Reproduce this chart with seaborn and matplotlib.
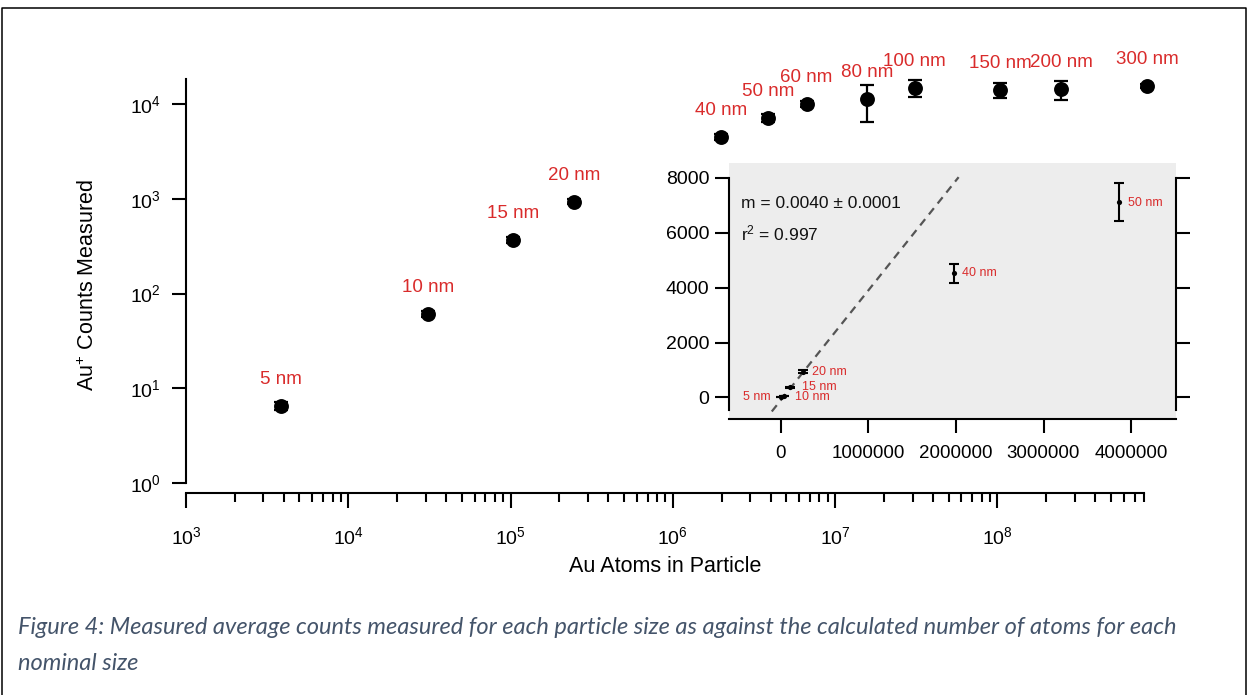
import numpy as np
import matplotlib
matplotlib.use("Agg")
import matplotlib.pyplot as plt
import seaborn as sns
from matplotlib.lines import Line2D
from matplotlib.ticker import FixedLocator, LogLocator, NullLocator, NullFormatter

# ---------------- data ----------------
sizes = ['5 nm', '10 nm', '15 nm', '20 nm', '40 nm', '50 nm', '60 nm',
         '80 nm', '100 nm', '150 nm', '200 nm', '300 nm']
atoms = [3.86e3, 3.09e4, 1.04e5, 2.47e5, 1.98e6, 3.86e6, 6.67e6,
         1.58e7, 3.09e7, 1.04e8, 2.47e8, 8.34e8]
counts = [6.5, 61, 367, 930, 4520, 7130, 10000,
          11200, 14900, 14100, 14300, 15500]
count_err = [0.6, 5, 25, 55, 335, 690, 700,
             4700, 3050, 2650, 3300, 800]

inset_sizes = sizes[:6]
inset_atoms = atoms[:6]
inset_counts = counts[:6]
inset_err = count_err[:6]

fit_slope = 0.0040
fit_slope_err = 0.0001
fit_intercept = -90
fit_r2 = 0.997
fit_x = [-1.05e5, 2.03e6]

main_xticks = [1e3, 1e4, 1e5, 1e6, 1e7, 1e8]
main_yticks = [1e0, 1e1, 1e2, 1e3, 1e4]
inset_xticks = [0, 1000000, 2000000, 3000000, 4000000]
inset_yticks = [0, 2000, 4000, 6000, 8000]

xlabel = 'Au Atoms in Particle'
ylabel = r'Au$^{+}$ Counts Measured'
caption_lines = ['Figure 4: Measured average counts measured for each particle size as against the calculated number of atoms for each',
                 'nominal size']

# ---------------- style ----------------
sns.set_theme(style='white')
plt.rcParams['font.family'] = ['Liberation Sans', 'DejaVu Sans']
plt.rcParams['font.sans-serif'] = ['Liberation Sans', 'DejaVu Sans']
plt.rcParams['mathtext.fontset'] = 'custom'
plt.rcParams['mathtext.rm'] = 'Liberation Sans'
plt.rcParams['mathtext.it'] = 'Liberation Sans:italic'
plt.rcParams['mathtext.bf'] = 'Liberation Sans:bold'

RED = '#D92B2B'
W, H = 1248, 695
fig = plt.figure(figsize=(W / 100, H / 100), dpi=100)
fig.patch.set_facecolor('white')

def px_rect(l, t, r, b):
    return [l / W, 1 - b / H, (r - l) / W, (b - t) / H]

# ---------------- main axes ----------------
ax = fig.add_axes(px_rect(186, 79, 1144, 483))
ax.set_facecolor('none')
ax.set_xscale('log')
ax.set_yscale('log')
ax.set_xlim(1e3, 8e8)
ax.set_ylim(1, 18360)

eb = ax.errorbar(atoms, counts, yerr=count_err, fmt='none', ecolor='black',
                 elinewidth=1.6, capsize=4.7, capthick=1.6, zorder=2)
for c in eb.get_children():
    c.set_clip_on(False)
sns.scatterplot(x=atoms, y=counts, ax=ax, s=115, color='black',
                edgecolor='black', linewidth=0, zorder=3, clip_on=False, legend=False)

for s, x, y in zip(sizes, atoms, counts):
    ax.annotate(s, (x, y), xytext=(0, 19), textcoords='offset points',
                ha='center', va='center', color=RED, fontsize=13.5,
                annotation_clip=False)

for side in ['top', 'right']:
    ax.spines[side].set_visible(False)
for side in ['left', 'bottom']:
    ax.spines[side].set_color('black')
    ax.spines[side].set_linewidth(1.5)
ax.spines['bottom'].set_position(('outward', 7.2))

ax.xaxis.set_major_locator(FixedLocator(main_xticks))
ax.xaxis.set_minor_locator(LogLocator(base=10, subs=np.arange(2, 10)))
ax.xaxis.set_minor_formatter(NullFormatter())
ax.yaxis.set_major_locator(FixedLocator(main_yticks))
ax.yaxis.set_minor_locator(NullLocator())
ax.tick_params(axis='x', which='major', direction='out', length=11, width=1.5,
               labelsize=14, pad=13, bottom=True, colors='black')
ax.tick_params(axis='x', which='minor', direction='out', length=6.5, width=1.5,
               bottom=True, colors='black')
ax.tick_params(axis='y', which='major', direction='out', length=10, width=1.5,
               labelsize=14, pad=8, left=True, colors='black')
ax.grid(False)

ax.set_xlabel(xlabel, fontsize=15.5, color='black')
ax.set_ylabel(ylabel, fontsize=15.5, color='black')
ax.xaxis.label.set_va('center')
ax.yaxis.label.set_va('center')
ax.xaxis.set_label_coords(0.5, (695 - 567 - 212) / 404)
ax.yaxis.set_label_coords((88 - 186) / 958, 0.49)

# ---------------- inset ----------------
ax2 = fig.add_axes(px_rect(729, 163, 1176, 419))
ax2.set_facecolor('#EDEDED')
ax2.set_xlim(-594000, 4.514e6)
ax2.set_ylim(-784, 8546)

fx = np.array(fit_x)
ax2.plot(fx, fit_slope * fx + fit_intercept, color='#555555', lw=1.6,
         linestyle=(0, (3.6, 2.7)), zorder=1)
eb2 = ax2.errorbar(inset_atoms, inset_counts, yerr=inset_err, fmt='none',
                   ecolor='black', elinewidth=1.5, capsize=3.6, capthick=1.5, zorder=2)
sns.scatterplot(x=inset_atoms, y=inset_counts, ax=ax2, s=14, color='black',
                edgecolor='black', linewidth=0, zorder=3, legend=False)

inset_label_offsets = [(-8, 0, 'right'), (8, -0.5, 'left'), (8.5, 0.5, 'left'),
                       (7, 0, 'left'), (5.5, 0, 'left'), (6.5, -1, 'left')]
for s, x, y, (dx, dy, ha) in zip(inset_sizes, inset_atoms, inset_counts, inset_label_offsets):
    ax2.annotate(s, (x, y), xytext=(dx, dy), textcoords='offset points',
                 ha=ha, va='center', color=RED, fontsize=9)

ax2.text((741 - 729) / 447, (419 - 204) / 256,
         f'm = {fit_slope:.4f} \u00b1 {fit_slope_err:.4f}',
         transform=ax2.transAxes, ha='left', va='center', fontsize=12.5, color='#111111')
ax2.text((741 - 729) / 447, (419 - 233) / 256, f'r$^{{2}}$ = {fit_r2:.3f}',
         transform=ax2.transAxes, ha='left', va='center', fontsize=12.5, color='#111111')

ax2.spines['top'].set_visible(False)
for side in ['left', 'right', 'bottom']:
    ax2.spines[side].set_color('black')
    ax2.spines[side].set_linewidth(1.5)
ax2.spines['left'].set_bounds(-455, 8000)
ax2.spines['right'].set_bounds(-455, 8000)

ax2.xaxis.set_major_locator(FixedLocator(inset_xticks))
ax2.yaxis.set_major_locator(FixedLocator(inset_yticks))
ax2.ticklabel_format(style='plain', useOffset=False)
ax2.tick_params(axis='x', direction='out', length=10, width=1.5, labelsize=13.5,
                pad=8.5, bottom=True, colors='black')
ax2.tick_params(axis='y', direction='out', length=10, width=1.5, labelsize=14,
                pad=4, left=True, right=True, labelleft=True, labelright=False,
                colors='black')
ax2.grid(False)

# ---------------- caption & frame ----------------
CAP = '#44546A'
cap1 = fig.text(18 / W, 1 - 627 / H, caption_lines[0], ha='left', va='center',
                fontsize=14, style='italic', color=CAP, family=['Lato', 'DejaVu Sans'])
fig.canvas.draw()
bb = cap1.get_window_extent()
cap_size = 14 * (1183 - 18) / bb.width
cap1.set_fontsize(cap_size)
fig.text(18 / W, 1 - 663 / H, caption_lines[1], ha='left', va='center',
         fontsize=cap_size, style='italic', color=CAP, family=['Lato', 'DejaVu Sans'])

fig.add_artist(Line2D([1.5 / W, 1.5 / W, 1246 / W, 1246 / W],
                      [0, 1 - 8 / H, 1 - 8 / H, 0],
                      transform=fig.transFigure, color='black', lw=1.1))

fig.savefig('out.png', dpi=100, facecolor='white')
